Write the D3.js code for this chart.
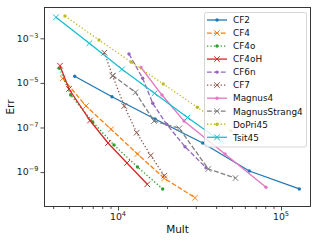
<!DOCTYPE html>
<html><head><meta charset="utf-8">
<script src="https://cdn.jsdelivr.net/npm/d3@7"></script>
<style>html,body{margin:0;padding:0;background:#fff;} svg{display:block;font-family:"DejaVu Sans",sans-serif;}</style>
</head><body>
<svg id="c" width="316" height="241"></svg>
<script>
// ---- data ----
const seriesNames = ["CF2","CF4","CF4o","CF4oH","CF6n","CF7","Magnus4","MagnusStrang4","DoPri45","Tsit45"];
const cf2Mult   = [5425, 9188, 16866, 33080, 63900, 129500];
const cf2Err    = [1.98e-5, 2.40e-6, 2.40e-7, 2.02e-8, 1.12e-9, 1.75e-10];
const cf4Mult   = [4578, 6364, 9060, 13170, 19230, 29680];
const cf4Err    = [1.61e-5, 9.2e-7, 8.3e-8, 6.5e-9, 5.27e-10, 7.1e-11];
const cf4oMult  = [4364, 5126, 6996, 9451, 13170, 18800];
const cf4oErr   = [4.52e-5, 2.86e-6, 1.77e-7, 1.64e-8, 1.69e-9, 1.75e-10];
const cf4oHMult = [4408, 5005, 6734, 8684, 11355, 15125];
const cf4oHErr  = [5.9e-5, 5.33e-6, 2.06e-7, 2.02e-8, 2.56e-9, 2.84e-10];
const cf6nMult  = [11680, 14170, 16330, 19890, 25760, 34670];
const cf6nErr   = [1.98e-4, 1.61e-5, 1.22e-6, 1.39e-7, 1.38e-8, 1.57e-9];
const cf7Mult   = [8241, 9278, 10930, 13020, 15870, 19230];
const cf7Err    = [2.26e-4, 2.04e-5, 9.2e-7, 5.85e-8, 5.55e-9, 6.9e-10];
const magnus4Mult = [13840, 18620, 25400, 45330, 80900];
const magnus4Err  = [4.91e-5, 2.86e-6, 1.95e-7, 6.5e-9, 2.08e-10];
const magnusStrang4Mult = [9278, 12800, 16630, 23770, 35810, 52590];
const magnusStrang4Err  = [2.15e-5, 3.79e-6, 1.95e-7, 9.2e-8, 1.38e-9, 5.4e-10];
const dopri45Mult = [4730, 7645, 12020, 18960, 30660, 49350];
const dopri45Err  = [1.0e-2, 8.4e-4, 8.65e-5, 8.93e-6, 8.05e-7, 7.33e-8];
const tsit45Mult  = [4165, 6667, 10580, 16750, 26700, 42840];
const tsit45Err   = [8.75e-3, 5.97e-4, 4.07e-5, 3.42e-6, 2.81e-7, 2.4e-8];
const xTickExps = [4, 5];
const yTickExps = [-3, -5, -7, -9];
const xDomain = [3516, 152760];
const yDomain = [2.72e-11, 0.02535];

// ---- styles ----
const colors = ["#1f77b4","#ff7f0e","#2ca02c","#d62728","#9467bd","#8c564b","#e377c2","#7f7f7f","#bcbd22","#17becf"];
const dashes = ["none","4.8,2.1","1.3,2.1","none","4.8,2.1","1.3,2.1","none","4.8,2.1","1.3,2.1","none"];
const markers = ["dot","x","dot","x","dot","x","dot","x","dot","x"];
const mults = [cf2Mult,cf4Mult,cf4oMult,cf4oHMult,cf6nMult,cf7Mult,magnus4Mult,magnusStrang4Mult,dopri45Mult,tsit45Mult];
const errs  = [cf2Err,cf4Err,cf4oErr,cf4oHErr,cf6nErr,cf7Err,magnus4Err,magnusStrang4Err,dopri45Err,tsit45Err];

const L = 44, T = 7, R = 311, B = 207;
const svg = d3.select("#c");
const x = d3.scaleLog().domain(xDomain).range([L, R]);
const y = d3.scaleLog().domain(yDomain).range([B, T]);
const LW = 1.3;

// axes ticks
const xMinor = [];
for (let e = 3; e <= 5; e++) for (let m = 2; m <= 9; m++) { const v = m * Math.pow(10, e); if (v > xDomain[0] && v < xDomain[1]) xMinor.push(v); }
const gx = svg.append("g").attr("transform", `translate(0,${B})`);
gx.call(d3.axisBottom(x).tickValues(xTickExps.map(e => Math.pow(10, e))).tickSize(3.5).tickFormat(() => ""));
const gxm = svg.append("g").attr("transform", `translate(0,${B})`);
gxm.call(d3.axisBottom(x).tickValues(xMinor).tickSize(2).tickFormat(() => ""));
const gy = svg.append("g").attr("transform", `translate(${L},0)`);
gy.call(d3.axisLeft(y).tickValues(yTickExps.map(e => Math.pow(10, e))).tickSize(3.5).tickFormat(() => ""));
svg.selectAll(".domain").remove();
svg.selectAll(".tick line").attr("stroke", "#222").attr("stroke-width", 0.8);

// tick labels
xTickExps.forEach(e => {
  const t = svg.append("text").attr("x", x(Math.pow(10, e))).attr("y", 219.5).attr("text-anchor", "middle").attr("font-size", 9.4).attr("fill", "#222");
  t.append("tspan").text("10");
  t.append("tspan").attr("dy", -4).attr("font-size", 6.6).text(String(e));
});
yTickExps.forEach(e => {
  const t = svg.append("text").attr("x", 38.5).attr("y", y(Math.pow(10, e)) + 3.4).attr("text-anchor", "end").attr("font-size", 9.4).attr("fill", "#222");
  t.append("tspan").text("10");
  t.append("tspan").attr("dy", -4).attr("font-size", 6.6).text("\u2212" + String(-e));
});

// axis labels
svg.append("text").attr("x", (L + R) / 2).attr("y", 232.5).attr("text-anchor", "middle").attr("font-size", 10.5).attr("fill", "#111").text("Mult");
svg.append("text").attr("transform", `translate(13.5,${(T + B) / 2}) rotate(-90)`).attr("text-anchor", "middle").attr("font-size", 10.5).attr("fill", "#111").text("Err");

// marker drawing
function drawMarker(g, kind, cx, cy, color) {
  if (kind === "dot") {
    g.append("circle").attr("cx", cx).attr("cy", cy).attr("r", 1.7).attr("fill", color);
  } else {
    const s = 2.8;
    g.append("path").attr("d", `M${cx - s},${cy - s}L${cx + s},${cy + s}M${cx - s},${cy + s}L${cx + s},${cy - s}`)
      .attr("stroke", color).attr("stroke-width", 1).attr("fill", "none");
  }
}

// series
const line = d3.line().x(d => x(d[0])).y(d => y(d[1]));
const plot = svg.append("g");
seriesNames.forEach((name, i) => {
  const pts = mults[i].map((m, j) => [m, errs[i][j]]);
  plot.append("path").attr("d", line(pts)).attr("fill", "none").attr("stroke", colors[i])
    .attr("stroke-width", LW).attr("stroke-dasharray", dashes[i]).attr("stroke-linecap", "butt");
  const mg = plot.append("g");
  pts.forEach(p => drawMarker(mg, markers[i], x(p[0]), y(p[1]), colors[i]));
});

// frame
svg.append("rect").attr("x", L + 0.5).attr("y", T + 0.5).attr("width", R - L - 1).attr("height", B - T - 1)
  .attr("fill", "none").attr("stroke", "#222").attr("stroke-width", 0.9);

// legend
const lg = svg.append("g");
lg.append("rect").attr("x", 204.5).attr("y", 12.5).attr("width", 102).attr("height", 134.5).attr("rx", 2)
  .attr("fill", "#fff").attr("fill-opacity", 0.8).attr("stroke", "#cccccc").attr("stroke-width", 0.8);
seriesNames.forEach((name, i) => {
  const cy = 20 + i * 13.03;
  lg.append("line").attr("x1", 207).attr("x2", 227).attr("y1", cy).attr("y2", cy).attr("stroke", colors[i])
    .attr("stroke-width", LW).attr("stroke-dasharray", dashes[i]);
  drawMarker(lg, markers[i], 217, cy, colors[i]);
  lg.append("text").attr("x", 233).attr("y", cy + 3.3).attr("font-size", 8.9).attr("fill", "#111").text(name);
});
</script>
</body></html>
